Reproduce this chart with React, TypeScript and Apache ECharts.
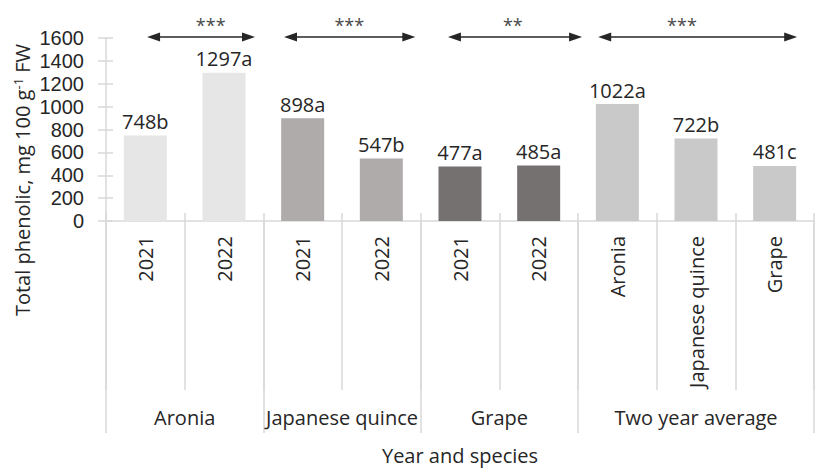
import React, { useEffect, useRef } from "react";
import * as echarts from "echarts";

// Category labels of the first (inner) x level
const categories = ["2021", "2022", "2021", "2022", "2021", "2022", "Aronia", "Japanese quince", "Grape"];
// Outer x level: species groups, placed on a half-category grid (19 stops)
const groupLabels = ["", "", "Aronia", "", "", "", "Japanese quince", "", "", "", "Grape", "", "", "", "", "Two year average", "", "", ""];
const groupBoundaries = [0, 4, 8, 12, 18];
// Total phenolic content, mg 100 g-1 FW
const values = [748, 1297, 898, 547, 477, 485, 1022, 722, 481];
const letters = ["b", "a", "a", "b", "a", "a", "a", "b", "c"];
const barColors = ["#E7E6E6", "#E7E6E6", "#AFABAB", "#AFABAB", "#767171", "#767171", "#C9C9C9", "#C9C9C9", "#C9C9C9"];
// Significance arrows: span in category units, star position, star text
const arrowStart = [0.51, 2.21, 4.245, 6.11];
const arrowEnd = [1.85, 3.84, 5.91, 8.58];
const starPos = [1.3, 3.02, 5.05, 7.15];
const starText = ["***", "***", "**", "***"];

const Y_MIN = 0;
const Y_MAX = 1600;
const Y_STEP = 200;

const GRID_LEFT = 106;
const GRID_TOP = 38;
const GRID_WIDTH = 725;
const GRID_HEIGHT = 183;

const FONT = "'Open Sans', 'Noto Sans', sans-serif";
// compact-metric face for the tightly stacked value-axis numbers
const TICK_FONT = "'Liberation Sans', Arial, sans-serif";
const TEXT = "#262626";
const AXIS = "#D9D9D9";

const catX = (u: number) => GRID_LEFT + (u * GRID_WIDTH) / categories.length;
const valY = (v: number) => GRID_TOP + (1 - (v - Y_MIN) / (Y_MAX - Y_MIN)) * GRID_HEIGHT;

function arrowGraphics() {
  const out: any[] = [];
  const y = valY(1608);
  const head = 13;
  const half = 4.5;
  arrowStart.forEach((s, i) => {
    const x1 = catX(s);
    const x2 = catX(arrowEnd[i]);
    out.push({
      type: "line",
      shape: { x1: x1 + head - 1, y1: y, x2: x2 - head + 1, y2: y },
      style: { stroke: TEXT, lineWidth: 1.5 },
    });
    out.push({
      type: "polygon",
      shape: { points: [[x1, y], [x1 + head, y - half], [x1 + head, y + half]] },
      style: { fill: TEXT },
    });
    out.push({
      type: "polygon",
      shape: { points: [[x2, y], [x2 - head, y - half], [x2 - head, y + half]] },
      style: { fill: TEXT },
    });
    out.push({
      type: "text",
      x: catX(starPos[i]),
      y: 25,
      style: { text: starText[i], font: `18px ${FONT}`, fill: "#4a4a4a", align: "center", verticalAlign: "middle" },
    });
  });
  return out;
}

export default function App() {
  const ref = useRef<HTMLDivElement>(null);

  useEffect(() => {
    if (!ref.current) return;
    const chart = echarts.init(ref.current, undefined, { renderer: "svg" });
    chart.setOption({
      animation: false,
      backgroundColor: "#ffffff",
      grid: { left: GRID_LEFT, top: GRID_TOP, width: GRID_WIDTH, height: GRID_HEIGHT, containLabel: false },
      xAxis: [
        {
          type: "category",
          data: categories,
          position: "bottom",
          boundaryGap: true,
          axisLine: { show: true, lineStyle: { color: AXIS, width: 1.5 } },
          axisTick: { show: true, interval: 0, length: 169, lineStyle: { color: AXIS, width: 1.5 } },
          axisLabel: { interval: 0, rotate: 90, margin: 15, fontSize: 20, fontFamily: FONT, color: TEXT },
          splitLine: { show: false },
        },
        {
          type: "category",
          data: groupLabels,
          position: "bottom",
          boundaryGap: false,
          axisLine: { show: false },
          axisTick: {
            show: true,
            interval: (index: number) => groupBoundaries.includes(index),
            length: 212,
            lineStyle: { color: AXIS, width: 1.5 },
          },
          axisLabel: { interval: 0, margin: 186, fontSize: 20, fontFamily: FONT, color: TEXT },
          name: "Year and species",
          nameLocation: "middle",
          nameGap: 224,
          nameTextStyle: { fontSize: 20, fontFamily: FONT, color: TEXT },
          splitLine: { show: false },
        },
        {
          // short tick marks rising above the axis line
          type: "category",
          data: categories,
          position: "bottom",
          boundaryGap: true,
          axisLine: { show: false },
          axisTick: { show: true, inside: true, interval: 0, length: 8, lineStyle: { color: AXIS, width: 1.5 } },
          axisLabel: { show: false },
          splitLine: { show: false },
        },
      ],
      yAxis: [
        {
          type: "value",
          min: Y_MIN,
          max: Y_MAX,
          interval: Y_STEP,
          axisLine: { show: true, lineStyle: { color: AXIS, width: 1.5 } },
          axisTick: { show: true, length: 8, lineStyle: { color: AXIS, width: 1.5 } },
          axisLabel: {
            margin: 22,
            fontSize: 20,
            lineHeight: 20,
            fontFamily: TICK_FONT,
            color: TEXT,
            formatter: (v: number) => String(v),
          },
          splitLine: { show: false },
        },
        {
          type: "value",
          position: "left",
          offset: 0,
          min: Y_MIN,
          max: Y_MAX,
          interval: Y_STEP,
          axisLine: { show: false },
          axisTick: { show: true, inside: true, length: 7, lineStyle: { color: AXIS, width: 1.5 } },
          axisLabel: { show: false },
          splitLine: { show: false },
        },
      ],
      series: [
        {
          type: "bar",
          xAxisIndex: 0,
          yAxisIndex: 0,
          barWidth: 43,
          data: values.map((v, i) => ({ value: v, itemStyle: { color: barColors[i] } })),
          label: {
            show: true,
            position: "top",
            distance: 4,
            fontSize: 20,
            fontFamily: FONT,
            color: TEXT,
            formatter: (p: any) => `${values[p.dataIndex]}${letters[p.dataIndex]}`,
          },
        },
      ],
      graphic: [
        {
          type: "text",
          x: 22,
          y: 180,
          rotation: Math.PI / 2,
          style: {
            text: "Total phenolic, mg 100 g{sup|-1} FW",
            font: `20px ${FONT}`,
            lineHeight: 22,
            fill: TEXT,
            align: "center",
            verticalAlign: "middle",
            rich: {
              sup: { fontSize: 13, lineHeight: 22, fontFamily: FONT, fill: TEXT, verticalAlign: "top", padding: [0, 0, 8, 0] },
            },
          },
        },
        ...arrowGraphics(),
      ],
    });
    return () => chart.dispose();
  }, []);

  return <div ref={ref} style={{ position: "absolute", left: 0, top: 0, width: 817, height: 470 }} />;
}
